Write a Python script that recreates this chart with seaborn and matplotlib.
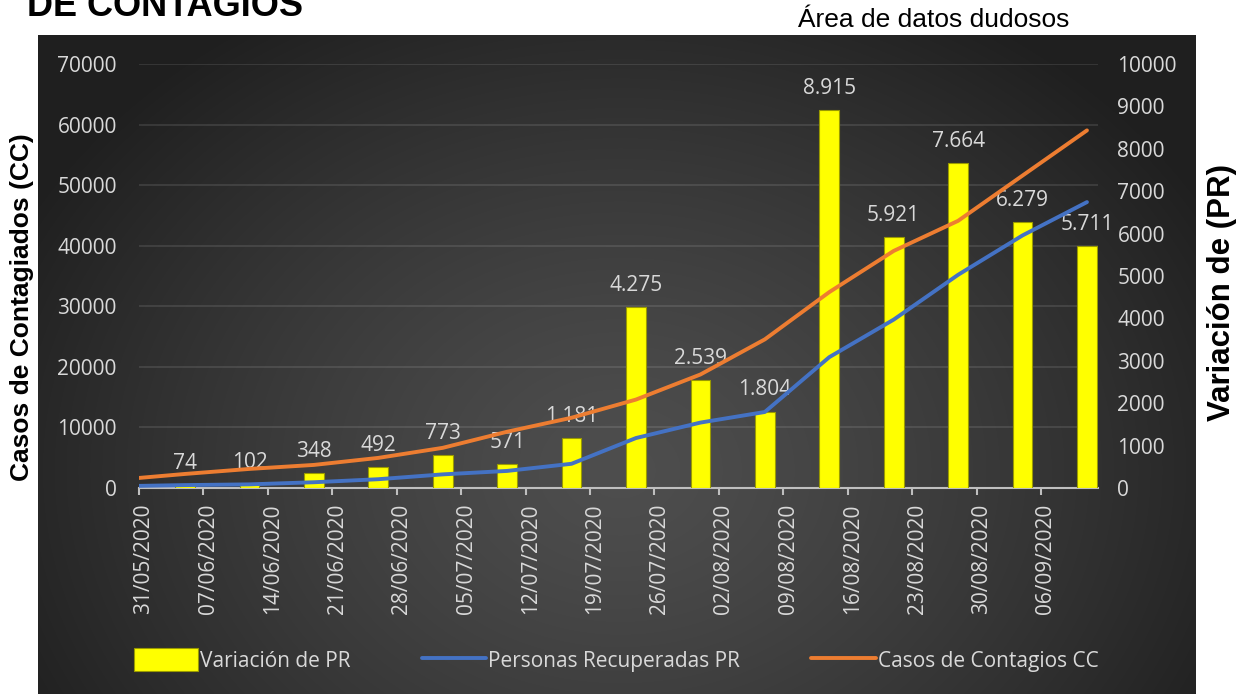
import numpy as np
import pandas as pd
import matplotlib.pyplot as plt
import seaborn as sns
from matplotlib.transforms import ScaledTranslation

# ---- data ----
line_dates = ["31/05/2020", "05/06/2020", "12/06/2020", "19/06/2020", "26/06/2020",
              "03/07/2020", "10/07/2020", "17/07/2020", "24/07/2020", "31/07/2020",
              "07/08/2020", "14/08/2020", "21/08/2020", "28/08/2020", "04/09/2020",
              "11/09/2020"]
bar_dates = line_dates[1:]
tick_labels = ["31/05/2020", "07/06/2020", "14/06/2020", "21/06/2020", "28/06/2020",
               "05/07/2020", "12/07/2020", "19/07/2020", "26/07/2020", "02/08/2020",
               "09/08/2020", "16/08/2020", "23/08/2020", "30/08/2020", "06/09/2020"]

variacion_pr = [74, 102, 348, 492, 773, 571, 1181, 4275, 2539, 1804,
                8915, 5921, 7664, 6279, 5711]
recuperadas_pr = [350, 480, 600, 950, 1450, 2250, 2820, 4000, 8250, 10800,
                  12550, 21600, 27800, 35200, 41700, 47200]
contagios_cc = [1660, 2320, 3150, 3810, 4970, 6630, 9290, 11600, 14600, 18740,
                24540, 32340, 39140, 44110, 51580, 59040]

label_var = "Variación de PR"
label_rec = "Personas Recuperadas PR"
label_cc = "Casos de Contagios CC"

# ---- positions in days from the first date ----
start = pd.to_datetime(line_dates[0], dayfirst=True)
line_x = (pd.to_datetime(line_dates, dayfirst=True) - start).days.to_numpy()
bar_x = (pd.to_datetime(bar_dates, dayfirst=True) - start).days.to_numpy()
tick_x = (pd.to_datetime(tick_labels, dayfirst=True) - start).days.to_numpy()

sns.set_style("ticks")
plt.rcParams["font.family"] = ["Open Sans", "DejaVu Sans"]

W, H = 1243, 694
fig = plt.figure(figsize=(W / 100, H / 100), dpi=100)

# -------- dark panel with radial gradient --------
bg = fig.add_axes([0, 0, 1, 1], zorder=-10)
px0, px1, py0, py1 = 38, 1196, 35, 694
gx, gy = np.meshgrid(np.arange(px0, px1), np.arange(py0, py1))
r = np.sqrt(((gx - 620) / 680) ** 2 + ((gy - 470) / 540) ** 2)
r = np.clip(r, 0, 1) ** 1.3
c_in, c_out = 0x4e / 255, 0x1f / 255
shade = c_in - (c_in - c_out) * r
img = np.dstack([shade, shade, shade])
bg.imshow(img, extent=[px0 / W, px1 / W, 1 - py1 / H, 1 - py0 / H],
          aspect="auto", origin="upper")
bg.set_xlim(0, 1)
bg.set_ylim(0, 1)
bg.axis("off")

# -------- axes --------
rect = [139 / W, 1 - 488 / H, (1098 - 139) / W, (488 - 64) / H]
ax = fig.add_axes(rect)          # left scale, grid, x ticks
ax2 = ax.twinx()                 # right scale, bars
ax3 = ax.twinx()                 # lines (left scale), on top
for a, z in ((ax, 1), (ax2, 2), (ax3, 3)):
    a.set_zorder(z)
    a.patch.set_visible(False)
    for s in a.spines.values():
        s.set_visible(False)

txt = "#d9d9d9"

# bars
sns.barplot(x=bar_x, y=variacion_pr, native_scale=True, width=2.15 / 7,
            color="#FFFF00", saturation=1, errorbar=None, ax=ax2,
            edgecolor="#9a9a00", linewidth=0.8)
bars = ax2.containers[0]
ax2.bar_label(bars, labels=[f"{v:,}".replace(",", ".") for v in variacion_pr],
              padding=8, color=txt, fontsize=15)

# lines
sns.lineplot(x=line_x, y=recuperadas_pr, ax=ax3, color="#4472C4", linewidth=2.8)
sns.lineplot(x=line_x, y=contagios_cc, ax=ax3, color="#ED7D31", linewidth=2.8)

# limits & ticks
ax.set_xlim(0, 104.2)
ax.set_ylim(0, 70000)
ax2.set_ylim(0, 10000)
ax3.set_ylim(0, 70000)
ax3.yaxis.set_visible(False)
ax2.xaxis.set_visible(False)
ax3.xaxis.set_visible(False)

ax.set_yticks(np.arange(0, 70001, 10000))
ax.set_yticklabels([str(v) for v in range(0, 70001, 10000)])
ax2.set_yticks(np.arange(0, 10001, 1000))
ax2.set_yticklabels([str(v) for v in range(0, 10001, 1000)])
ax.tick_params(axis="y", length=0, pad=16, labelcolor=txt, labelsize=15)
ax2.tick_params(axis="y", length=0, pad=14, labelcolor=txt, labelsize=15)

ax.set_xticks(tick_x)
ax.set_xticklabels(tick_labels, rotation=90)
ax.tick_params(axis="x", direction="out", length=5, width=1.5, color="#bfbfbf",
               pad=6, labelcolor=txt, labelsize=15)
shift = ScaledTranslation(5 / 100, 0, fig.dpi_scale_trans)
for lab in ax.get_xticklabels():
    lab.set_transform(lab.get_transform() + shift)

ax.spines["bottom"].set_visible(True)
ax.spines["bottom"].set_color("#bfbfbf")
ax.spines["bottom"].set_linewidth(1.5)
ax.grid(axis="y", color="white", alpha=0.12, linewidth=1.2)
ax.grid(axis="x", visible=False)
for a in (ax, ax2, ax3):
    a.set_xlabel("")
    a.set_ylabel("")

# -------- texts outside the panel --------
fig.text(27 / W, 1 - 16 / H, "DE CONTAGIOS", fontsize=26, fontweight="bold",
         family="Liberation Sans", va="baseline", ha="left", color="black")
fig.text(798 / W, 1 - 27 / H, "Área de datos dudosos", fontsize=19,
         family="Liberation Sans", va="baseline", ha="left", color="black")
fig.text(22 / W, 1 - 307 / H, "Casos de Contagiados (CC)", fontsize=19,
         fontweight="bold", family="Liberation Sans", rotation=90,
         va="center", ha="center", color="black")
fig.text(1222 / W, 1 - 292 / H, "Variación de (PR)", fontsize=22.5,
         fontweight="bold", family="Liberation Sans", rotation=90,
         va="center", ha="center", color="black")

# -------- legend --------
leg = fig.legend([bars, ax3.lines[0], ax3.lines[1]], [label_var, label_rec, label_cc],
                 loc="center", bbox_to_anchor=(616 / W, 1 - 660 / H), ncol=3,
                 frameon=False, fontsize=15, handlelength=3.1, handleheight=1.25,
                 handletextpad=0.1, columnspacing=3.4, labelcolor=txt)

fig.savefig("out.png", dpi=100)
plt.close(fig)
